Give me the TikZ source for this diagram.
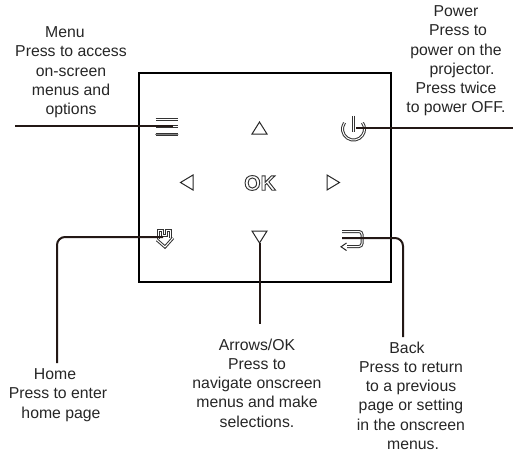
\documentclass[tikz,border=0pt]{standalone}
\usepackage{fontspec}
\setmainfont{Liberation Sans}
\newfontfamily\okfont[FakeBold=4.5]{Liberation Sans Bold}
\usetikzlibrary{arrows.meta}

\definecolor{leadcolor}{RGB}{35,24,21}

\begin{document}
\begin{tikzpicture}[
                            x=1pt,
                            y=-1pt,
                            helptext/.style={anchor=north,inner sep=0pt,align=center,text=black!85,
                                font=\fontsize{15.8}{19.2}\selectfont},
                            leader/.style={draw=leadcolor,line width=2pt,rounded corners=8pt},
                            iconline/.style={preaction={draw=black!80,line width=3pt},draw=white,line width=1pt,
                                line cap=round,line join=round},
                            arrowkey/.style={draw=black!85,line width=1pt,line join=miter}
                        ]
                        \useasboundingbox (0,0) rectangle (514,458);

                        \draw[black,line width=2pt] (139,73) rectangle (390.5,282);

                        % keys
                        \draw[arrowkey] (252,134) -- (267,134) -- (259.5,122) -- cycle;
                        \draw[arrowkey] (193,175) -- (193,190) -- (180.5,182.5) -- cycle;
                        \draw[arrowkey] (327,175) -- (327,190) -- (339.5,182.5) -- cycle;
                        \draw[arrowkey] (252,231) -- (267,231) -- (259.5,243) -- cycle;

                        % icons
                        \draw[iconline] (155.5,119.5) -- (178,119.5);
                        \draw[iconline] (155.5,126.5) -- (178,126.5);
                        \draw[iconline,draw=black!50] (155.5,134.5) -- (178,134.5);
                        \coordinate (menukey) at (173,126);

                        \draw[iconline] (344.5,122.7) arc[start angle=215,end angle=-35,radius=11];
                        \draw[iconline] (353.5,115.5) -- (353.5,131.5);
                        \coordinate (powerkey) at (356,128);

                        \draw[iconline] (158.5,238.5) -- (158.5,230.5) -- (162.5,230.5) -- (162.5,235.5) -- (166.5,235.5) -- (166.5,230.5) -- (170.5,230.5) -- (170.5,237.5);
                        \draw[iconline] (157,240) -- (165,247) -- (173,238);
                        \coordinate (homekey) at (163,237);

                        \draw[iconline] (342,231.5) -- (359,231.5) arc[start angle=-90,end angle=0,radius=3] -- (362,243.5) arc[start angle=0,end angle=90,radius=3] -- (347,246.5);
                        \draw[arrowkey,line width=1pt] (346.5,243) -- (341,246.8) -- (346.5,250.5);
                        \coordinate (backkey) at (342,238);

                        \coordinate (arrowkeys) at (259.5,243);

                        % labels
                        \node[helptext] (menu) at (71,26.7) {\hspace*{-12pt}Menu\\Press to access\\on-screen\\menus and\\options};
                        \node[helptext] (power) at (456,5.7) {Power\\\hspace*{4pt}Press to\\power on the\hspace*{6pt}\\\hspace*{12pt}projector.\\Press twice\hspace*{16pt}\\to power OFF.};
                        \node[helptext] (home) at (58,368.7) {Home\hspace*{6pt}\\Press to enter\\\hspace*{6pt}home page};
                        \node[helptext] (arrows) at (257,338.7) {Arrows/OK\\Press to\\navigate onscreen\\menus and make\\selections.};
                        \node[helptext] (back) at (411,341.7) {Back\hspace*{8pt}\\Press to return\\to a previous\\page or setting\\in the onscreen\\\hspace*{4pt}menus.};

                        % leaders
                        \coordinate (menuend) at (15,126);
                        \coordinate (powerend) at (513,128);
                        \coordinate (homeend) at (57,363);
                        \coordinate (arrowsend) at (259.5,324);
                        \coordinate (backend) at (403,337);

                        \draw[leader] (menukey) -- (menuend);
                        \draw[leader] (powerkey) -- (powerend);
                        \draw[leader] (homekey) -| (homeend);
                        \draw[leader] (arrowkeys) -- (arrowsend);
                        \draw[leader] (backkey) -| (backend);

                        \node[inner sep=0pt,font=\okfont\fontsize{21}{21}\selectfont] (ok) at (260,183)
                            {\textcolor{white}{\special{pdf:code 0.2 0.2 0.2 RG}OK}};
                    \end{tikzpicture}
\end{document}
